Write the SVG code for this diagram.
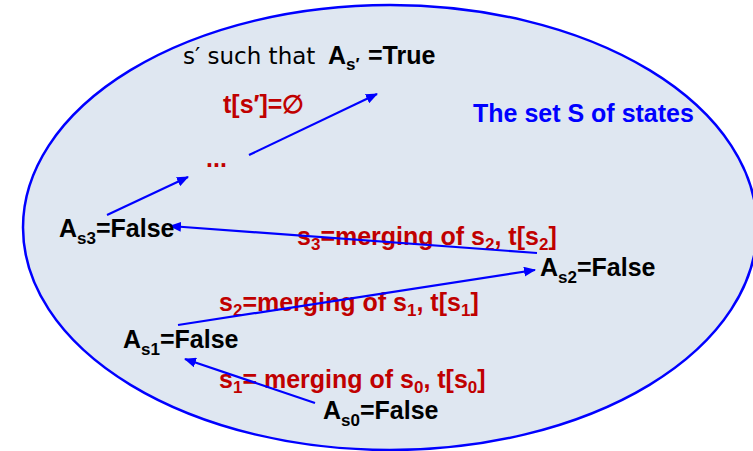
<svg xmlns="http://www.w3.org/2000/svg" width="753" height="451" viewBox="0 0 753 451">
<style>
.b{font-family:"Liberation Sans",Arial,sans-serif;font-weight:bold;font-size:25px;fill:#000}
.r{font-family:"Liberation Sans",Arial,sans-serif;font-weight:bold;font-size:25px;fill:#c00000}
.sub{font-size:17px}
.reg{font-family:"DejaVu Sans","Liberation Sans",sans-serif;font-size:23px;fill:#000}
.t{font-family:"Liberation Sans",Arial,sans-serif;font-weight:bold;font-size:25px;fill:#0000ff}
.c{stroke:#0000ff;stroke-width:2.2;fill:none;marker-end:url(#ah)}
</style>
<defs>
<marker id="ah" viewBox="0 0 12 10" refX="11" refY="5" markerWidth="12" markerHeight="10" markerUnits="userSpaceOnUse" orient="auto">
<path d="M0,0 L12,5 L0,10 Z" fill="#0000ff"/>
</marker>
</defs>
<rect width="753" height="451" fill="#fff"/>
<g id="set">
<ellipse cx="390" cy="227.5" rx="367" ry="222.5" fill="#dfe7f1" stroke="#0000ff" stroke-width="2.5"/>
<text class="t" x="473" y="122">The set S of states</text>
</g>
<g id="labels">
<text class="r" x="297" y="245">s<tspan class="sub" dy="5">3</tspan><tspan dy="-5">=merging of s</tspan><tspan class="sub" dy="5">2</tspan><tspan dy="-5">, t[s</tspan><tspan class="sub" dy="5">2</tspan><tspan dy="-5">]</tspan></text>
<text class="r" x="219" y="311">s<tspan class="sub" dy="5">2</tspan><tspan dy="-5">=merging of s</tspan><tspan class="sub" dy="5">1</tspan><tspan dy="-5">, t[s</tspan><tspan class="sub" dy="5">1</tspan><tspan dy="-5">]</tspan></text>
<text class="r" x="219" y="388">s<tspan class="sub" dy="5">1</tspan><tspan dy="-5">= merging of s</tspan><tspan class="sub" dy="5">0</tspan><tspan dy="-5">, t[s</tspan><tspan class="sub" dy="5">0</tspan><tspan dy="-5">]</tspan></text>
</g>
<g id="connectors">
<line class="c" x1="107" y1="215" x2="188" y2="177"/>
<line class="c" x1="249" y1="155" x2="377" y2="94"/>
<line class="c" x1="537" y1="253" x2="170" y2="226"/>
<line class="c" x1="178" y1="325" x2="535" y2="270"/>
<line class="c" x1="315" y1="403" x2="185" y2="359"/>
</g>
<g id="goal">
<text class="reg" x="183" y="64">s′ such that</text>
<text class="b" x="328" y="64">A<tspan class="sub" dy="6">s′</tspan><tspan dy="-6" x="368">=True</tspan></text>
<text class="r" x="223" y="113">t[s′]=∅</text>
</g>
<g id="dots">
<text class="r" x="206" y="167">...</text>
</g>
<g id="s3">
<text class="b" x="59" y="237">A<tspan class="sub" dy="7">s3</tspan><tspan dy="-7">=False</tspan></text>
</g>
<g id="s2">
<text class="b" x="540" y="276">A<tspan class="sub" dy="7">s2</tspan><tspan dy="-7">=False</tspan></text>
</g>
<g id="s1">
<text class="b" x="123" y="348">A<tspan class="sub" dy="7">s1</tspan><tspan dy="-7">=False</tspan></text>
</g>
<g id="s0">
<text class="b" x="323" y="419">A<tspan class="sub" dy="7">s0</tspan><tspan dy="-7">=False</tspan></text>
</g>
</svg>
